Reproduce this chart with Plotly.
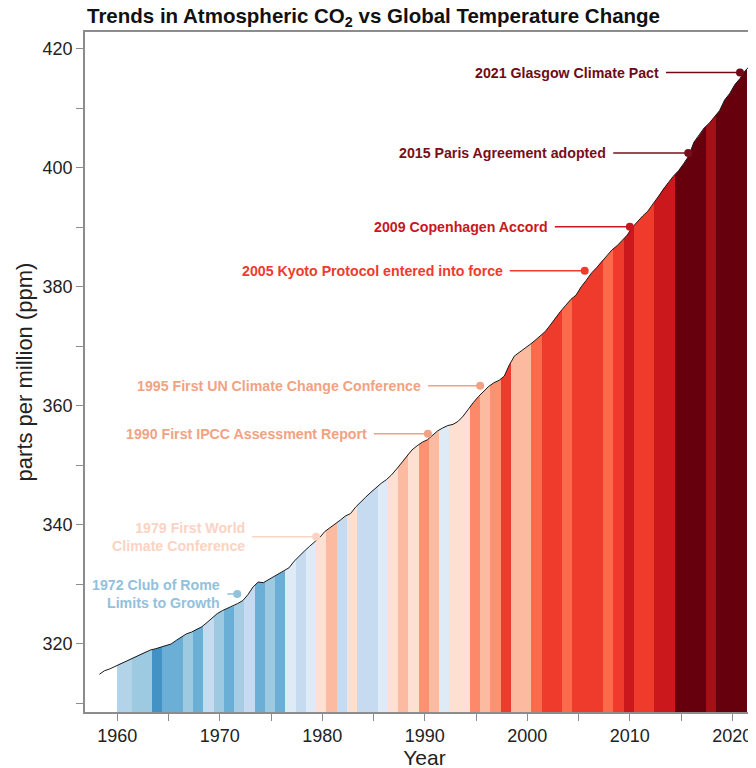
import numpy as np
import plotly.graph_objects as go

# ---------------- data ----------------
# CO2 curve (ppm), half-yearly
co2_start, co2_step = 1958.25, 0.5
co2_ppm = [
    314.9, 315.5, 315.8, 316.2, 316.7, 317.0, 317.5, 317.9, 318.3, 318.7,
    319.0, 319.2, 319.5, 319.8, 320.0, 320.6, 321.2, 321.7, 322.0, 322.5,
    322.9, 323.6, 324.4, 325.1, 325.6, 326.0, 326.3, 326.8, 327.3, 328.3,
    329.6, 330.4, 330.3, 330.8, 331.3, 331.8, 332.2, 332.8, 333.9, 334.8,
    335.6, 336.4, 337.1, 337.9, 338.9, 339.5, 340.2, 340.8, 341.5, 341.9,
    343.0, 343.9, 344.7, 345.5, 346.3, 347.0, 347.6, 348.4, 349.4, 350.5,
    351.7, 352.6, 353.3, 353.9, 354.3, 355.0, 355.8, 356.3, 356.7, 356.9,
    357.4, 358.3, 359.5, 360.6, 361.6, 362.5, 363.3, 363.9, 364.3, 365.0,
    366.9, 368.4, 369.0, 369.6, 370.3, 371.0, 371.7, 372.5, 373.6, 374.8,
    375.9, 376.9, 377.9, 378.6, 380.0, 381.1, 382.3, 383.2, 384.3, 385.2,
    386.2, 386.9, 387.8, 388.7, 390.0, 391.0, 391.9, 392.7, 393.9, 395.1,
    396.5, 397.5, 398.6, 399.5, 400.7, 402.0, 404.3, 405.4, 406.7, 407.5,
    408.6, 409.6, 411.4, 412.5, 414.0, 415.0, 416.3, 417.2, 418.5,
]
co2_years = co2_start + co2_step * np.arange(len(co2_ppm))

# warming stripes, one per year
stripe_years = list(range(1960, 2022))
stripe_colors = [
    "#b3d3e9", "#b3d3e9", "#9ecae1", "#9ecae1", "#4292c6", "#6baed6", "#6baed6", "#9ecae1", "#6baed6", "#c6dbef",  # 1960-69
    "#9ecae1", "#6baed6", "#a6cde3", "#c6dbef", "#6baed6", "#9ecae1", "#6baed6", "#deebf7", "#c6dbef", "#deebf7",  # 1970-79
    "#fee0d2", "#fcbba1", "#c6dbef", "#fee0d2", "#c6dbef", "#c6dbef", "#deebf7", "#fee0d2", "#fcbba1", "#fee0d2",  # 1980-89
    "#fc9272", "#fcbba1", "#deebf7", "#fee0d2", "#fee0d2", "#fc8a6a", "#fcbba1", "#fc9272", "#ef3b2c", "#fcbba1",  # 1990-99
    "#fcbba1", "#fb6a4a", "#ef3b2c", "#ef3b2c", "#fb6a4a", "#ef3b2c", "#ef3b2c", "#ef3b2c", "#fb6a4a", "#ef3b2c",  # 2000-09
    "#cb181d", "#ef3b2c", "#ef3b2c", "#cb181d", "#cb181d", "#67000d", "#67000d", "#67000d", "#a50f15", "#67000d",  # 2010-19
    "#67000d", "#67000d",                                                                                      # 2020-21
]

# milestone events
event_labels = [
    "1972 Club of Rome<br>Limits to Growth",
    "1979 First World<br>Climate Conference",
    "1990 First IPCC Assessment Report",
    "1995 First UN Climate Change Conference",
    "2005 Kyoto Protocol entered into force",
    "2009 Copenhagen Accord",
    "2015 Paris Agreement adopted",
    "2021 Glasgow Climate Pact",
]
event_year = [1971.7, 1979.4, 1990.3, 1995.4, 2005.6, 2010.0, 2015.7, 2020.75]
event_ppm = [328.4, 338.0, 355.3, 363.4, 382.7, 390.1, 402.5, 416.0]
event_colors = ["#92c1dc", "#fbd3c2", "#f2a283", "#f2a283", "#ee3b2b", "#c9171d", "#7a0d1a", "#6e0b16"]

# ---------------- style / layout ----------------
leader_px = [10, 64, 54, 52, 75, 75, 75, 74]
FONT = "Liberation Sans, Arial, Helvetica, sans-serif"
Y_MIN, Y_MAX = 308.57, 422.82
X_MIN, X_MAX = 1956.85, 2023.09
AXIS_GRAY = "#8c8c8c"
TXT = "#222222"

fig = go.Figure()

# stripes (full height, later masked above the curve)
left = [max(y - 0.6, 1960.0) for y in stripe_years]
right = [y + 0.4 for y in stripe_years]
fig.add_trace(go.Bar(
    x=[(a + b) / 2 for a, b in zip(left, right)],
    width=[b - a for a, b in zip(left, right)],
    base=[Y_MIN - 5] * len(stripe_years),
    y=[Y_MAX - Y_MIN + 10] * len(stripe_years),
    marker=dict(color=stripe_colors, line=dict(width=0)),
    hoverinfo="skip", showlegend=False,
))

# white mask above the curve
mx = list(co2_years) + [co2_years[-1] + 1, co2_years[-1] + 1, co2_years[0] - 5, co2_years[0] - 5]
my = list(co2_ppm) + [co2_ppm[-1], Y_MAX + 10, Y_MAX + 10, co2_ppm[0]]
fig.add_trace(go.Scatter(x=mx, y=my, fill="toself", fillcolor="white", mode="none",
                         hoverinfo="skip", showlegend=False))

# CO2 curve
fig.add_trace(go.Scatter(x=co2_years, y=co2_ppm, mode="lines",
                         line=dict(color="#1a1a1a", width=1), showlegend=False))

# event leader lines, dots and labels
for lab, ex, ey, col, L in zip(event_labels, event_year, event_ppm, event_colors, leader_px):
    fig.add_shape(type="line", xref="x", yref="y", xsizemode="pixel", xanchor=ex,
                  x0=-L, x1=0, y0=ey, y1=ey, line=dict(color=col, width=1.5))
    fig.add_annotation(x=ex, y=ey, xref="x", yref="y", text=f"<b>{lab}</b>", showarrow=False,
                       xanchor="right", yanchor="middle", align="right", xshift=-(L + 5),
                       font=dict(family=FONT, size=14.2, color=col))
fig.add_trace(go.Scatter(x=event_year, y=event_ppm, mode="markers",
                         marker=dict(color=event_colors, size=8), showlegend=False))

# page has an 8px body margin, so margins are reduced by 8px
fig.update_layout(
    width=756, height=768,
    margin=dict(l=77, r=0, t=24, b=64),
    paper_bgcolor="white", plot_bgcolor="white",
    bargap=0,
    font=dict(family=FONT, color=TXT),
    title=dict(text="<b>Trends in Atmospheric CO<sub>2</sub> vs Global Temperature Change</b>",
               x=79 / 756, xanchor="left", xref="container", y=1 - 8 / 768, yanchor="middle",
               font=dict(family=FONT, size=20.5, color="#111111")),
    showlegend=False,
)
fig.update_xaxes(range=[X_MIN, X_MAX], tickvals=list(range(1960, 2030, 10)),
                 ticks="outside", ticklen=7, tickcolor=AXIS_GRAY, tickwidth=1.2,
                 minor=dict(tickvals=list(range(1965, 2030, 10)), ticks="outside", ticklen=7,
                            tickcolor=AXIS_GRAY, tickwidth=1.2),
                 showline=True, linecolor=AXIS_GRAY, linewidth=1.5, mirror=True,
                 showgrid=False, zeroline=False,
                 tickfont=dict(family=FONT, size=18, color=TXT),
                 title=dict(text="Year", standoff=0, font=dict(family=FONT, size=21, color=TXT)))
fig.update_yaxes(range=[Y_MIN, Y_MAX], tickvals=list(range(320, 440, 20)),
                 ticks="outside", ticklen=7, tickcolor=AXIS_GRAY, tickwidth=1.2,
                 minor=dict(tickvals=list(range(310, 430, 20)), ticks="outside", ticklen=7,
                            tickcolor=AXIS_GRAY, tickwidth=1.2),
                 showline=True, linecolor=AXIS_GRAY, linewidth=1.5,
                 showgrid=False, zeroline=False,
                 tickfont=dict(family=FONT, size=18, color=TXT),
                 title=dict(text="parts per million (ppm)", standoff=4,
                            font=dict(family=FONT, size=22, color=TXT)))

fig.write_html("out.html")
